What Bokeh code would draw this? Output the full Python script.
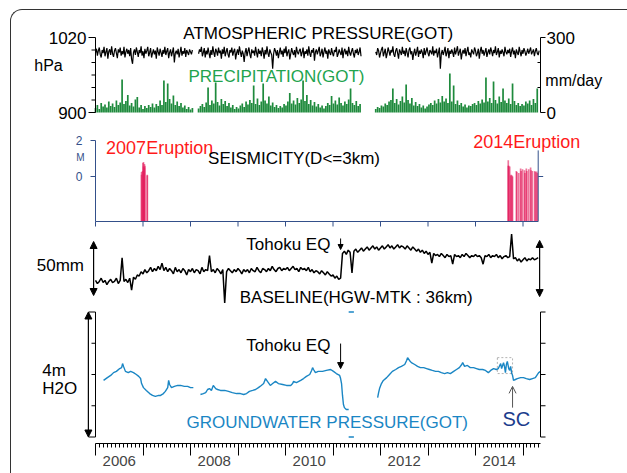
from bokeh.plotting import figure
from bokeh.models import (Range1d, LinearAxis, FixedTicker, Label, Arrow,
                          NormalHead, OpenHead, BoxAnnotation)
from bokeh.layouts import column
from bokeh.embed import file_html
from bokeh.resources import INLINE

# ---------------------------------------------------------------- data
STEP = 0.04        # sampling interval (years) of digitised precipitation / baseline
PRES_STEP = 0.02   # sampling interval (years) of digitised pressure

years = list(range(2006, 2016))
year_labels = ["2006", "2008", "2010", "2012", "2014"]

# atmospheric pressure (hPa) and precipitation (mm/day), three recorded segments
seg_start = [2006.00, 2008.17, 2011.90]
pres_a = [996, 1002, 991, 999, 1004, 993, 988, 1000, 995, 1005, 990, 997, 1003, 986, 998, 1001, 992, 1006, 994, 989,
          999, 1003, 995, 987, 1001, 996, 1004, 991, 998, 993, 1005, 988, 997, 1002, 994, 1000, 990, 1003, 985, 978,
          996, 1001, 992, 1004, 997, 989, 1000, 995, 1006, 991, 998, 987, 1002, 994, 999, 1005, 990, 996, 1003, 988,
          995, 1001, 993, 999, 986, 1004, 997, 991, 1002, 996, 989, 1000, 994, 1005, 992, 998, 1003, 987, 996, 1001,
          990, 997, 1004, 980, 995, 999, 993, 1002, 988, 996, 1005, 991, 998, 994, 1003, 989, 1000, 996, 992, 1001,
          997, 993, 1000]
pres_b = [994, 1001, 997, 1005, 990, 996, 1003, 988, 999, 993, 1004, 995, 987, 1000, 992, 1006, 996, 989, 1002, 998,
          991, 1004, 995, 999, 986, 1001, 994, 1005, 990, 997, 1003, 993, 988, 1000, 996, 1004, 991, 998, 1002, 985,
          995, 1001, 992, 1006, 997, 989, 999, 994, 981, 996, 1003, 990, 998, 1004, 993, 987, 1001, 995, 999, 991,
          1005, 996, 988, 1002, 994, 999, 990, 1004, 997, 986, 1000, 993, 1006, 995, 989, 1001, 996, 992, 970, 994,
          1003, 998, 991, 1000, 987, 996, 1004, 993, 999, 989, 1002, 995, 1006, 990, 997, 1001, 985, 994, 1003, 996,
          992, 1000, 988, 1005, 997, 993, 999, 1002, 990, 996, 1004, 987, 998, 994, 1001, 991, 1006, 995, 989, 1000,
          996, 1003, 983, 997, 1001, 993, 999, 1005, 990, 995, 1002, 988, 997, 1004, 994, 999, 986, 1001, 996, 992,
          1003, 995, 990, 1000, 997, 1005, 989, 994, 1001, 996, 992, 1004, 987, 998, 1002, 993, 999, 990, 1005, 996,
          991, 998, 1003, 994, 988, 1000, 995, 1002, 992, 997, 1004, 990]
pres_c = [997, 992, 1003, 999, 988, 995, 1001, 1005, 990, 996, 1002, 987, 994, 1004, 998, 991, 1000, 996, 1006, 993,
          989, 999, 1003, 995, 986, 1001, 997, 992, 1005, 994, 999, 990, 1003, 996, 988, 1000, 1004, 993, 998, 984,
          995, 1002, 991, 997, 1005, 989, 999, 994, 1001, 996, 987, 1003, 992, 998, 1004, 995, 990, 1000, 997, 993,
          1006, 991, 999, 995, 1002, 988, 996, 1004, 970, 994, 1000, 992, 998, 1005, 990, 996, 1003, 987, 999, 994,
          1001, 996, 989, 1004, 993, 999, 1006, 991, 997, 1002, 985, 995, 1000, 994, 1003, 990, 998, 1005, 992, 996,
          988, 1001, 997, 993, 1004, 999, 990, 995, 1002, 986, 998, 1005, 994, 1000, 991, 997, 1003, 989, 996, 1001,
          993, 1004, 998, 990, 1000, 995, 1006, 992, 997, 1003, 988, 999, 994, 1001, 996, 990, 1005, 997, 993, 1000,
          995, 1002, 989, 998, 1004, 993, 999, 987, 1001, 996, 992, 1005, 997, 990, 1000, 994, 1003, 998, 991, 996,
          1002, 994, 999, 1004, 993, 997, 1001, 990, 998, 1003, 995, 992, 999]
prcp_a = [18, 30, 14, 38, 24, 32, 20, 44, 26, 36,
          22, 48, 30, 40, 132, 34, 46, 70, 28, 38,
          24, 52, 62, 20, 30, 14, 26, 18, 30, 22,
          36, 20, 34, 26, 48, 30, 128, 42, 116, 54,
          36, 68, 30, 44, 26, 38, 20, 28, 14, 22,
          12, 18]
prcp_b = [16, 26, 34, 22, 40, 100, 30, 48, 36, 120,
          42, 28, 54, 34, 46, 26, 38, 20, 30, 14,
          22, 16, 28, 36, 22, 44, 32, 50, 38, 108,
          34, 56, 30, 44, 116, 48, 36, 64, 28, 40,
          22, 30, 18, 26, 20, 34, 28, 44, 78, 36,
          48, 32, 58, 38, 52, 128, 46, 70, 34, 50,
          28, 42, 24, 34, 20, 28, 16, 26, 38, 30,
          66, 36, 48, 32, 60, 38, 28, 44, 34, 52,
          96, 38, 30, 46, 26, 34]
prcp_c = [14, 22, 18, 28, 24, 36, 30, 44, 50, 96,
          38, 54, 32, 46, 64, 40, 112, 50, 36, 58,
          28, 42, 26, 34, 20, 28, 16, 24, 32, 38,
          30, 48, 36, 54, 40, 66, 44, 56, 38, 156,
          44, 108, 34, 48, 30, 38, 24, 32, 20, 28,
          26, 34, 38, 30, 46, 36, 52, 40, 140, 44,
          58, 38, 124, 50, 36, 64, 42, 96, 48, 38,
          56, 34, 116, 46, 30, 38, 26, 34, 28, 44,
          36, 48, 30, 54, 38, 96]

# seismicity (magnitude of events, D<=3km)
eq_t = [2006.97, 2006.97, 2006.99, 2007.00, 2007.01, 2007.01, 2007.03, 2007.03,
        2007.04, 2007.09, 2007.09,
        2014.69, 2014.69, 2014.70, 2014.72, 2014.74, 2014.75, 2014.77, 2014.78,
        2014.86, 2014.87, 2014.91, 2014.95, 2014.96, 2014.99, 2015.03, 2015.04,
        2015.07, 2015.08, 2015.12, 2015.16, 2015.17, 2015.20, 2015.25, 2015.26,
        2015.29, 2015.30]
eq_m = [0.25, 0.1, 0.3, 0.75, 0.8, 0.55, 0.7, 0.5,
        0.6, 0.1, 0.05,
        0.9, 0.6, 0.6, 0.55, 0.05, 0.1, 0.05, 0.0,
        0.3, 0.25, 0.2, 0.45, 0.3, 0.4, 0.35, 0.2,
        0.45, 0.3, 0.4, 0.5, 0.35, 0.3, 0.3, 0.25,
        0.28, 0.2]

# GNSS baseline HGW-MTK (mm, relative)
base_start = 2006.00
baseline = [-11, -14, -12, -9, -13, -11, -15, -12, -10, -13,
            -12, -9, -14, -11, 10, -12, -10, -13, -9, -20,
            -8, -10, -6, -7, -3, -5, -1, -4, -2, 1,
            -3, 0, -2, 2, -1, 5, -2, 1, -3, 0,
            -2, -5, 1, -3, -1, -4, 0, -2, -6, -1,
            -3, 0, -4, -1, -2, -5, 1, -3, -1, -2,
            12, -3, -1, -4, 0, -2, -5, -1, -32, -3,
            0, -2, -4, -1, -3, 0, -2, -5, -1, -3,
            -1, -4, 0, -2, -3, 1, -2, -4, 0, -1,
            -3, 0, -2, 2, -1, -3, 0, 1, -2, 0,
            -1, 1, -2, 0, 2, -1, 0, -3, 1, -1,
            0, -2, 1, -3, -1, -4, -2, -3, -5, -2,
            -4, -6, -3, -5, -7, -6, -9, -7, -10, -9,
            14, 16, 13, 17, 15, -4, 16, 18, 15, 17,
            19, 16, 18, 20, 17, 19, 21, 18, 20, 17,
            19, 21, 18, 20, 22, 19, 21, 18, 20, 22,
            19, 21, 20, 18, 21, 19, 17, 20, 18, 16,
            18, 15, 17, 14, 16, 13, 15, 5, 14, 12,
            13, 11, 14, 12, 10, 13, 11, 12, 4, 13,
            11, 12, 10, 13, 11, 14, 12, 10, 12, 11,
            13, 11, 12, 10, 4, 12, 11, 13, 10, 12,
            11, 13, 10, 12, 9, 11, 12, 10, 11, 32,
            9, 10, 7, 9, 6, 8, 10, 7, 9, 8,
            10, 8, 9, 10]

# groundwater pressure (m H2O, relative)
gw1_t = [2006.17, 2006.25, 2006.32, 2006.38, 2006.44, 2006.51, 2006.55, 2006.57, 2006.59, 2006.63,
         2006.69, 2006.74, 2006.80, 2006.86, 2006.91, 2006.95, 2006.97, 2007.01, 2007.07, 2007.14,
         2007.20, 2007.26, 2007.33, 2007.37, 2007.43, 2007.47, 2007.52, 2007.54, 2007.56, 2007.60,
         2007.66, 2007.73, 2007.79, 2007.87, 2007.94, 2008.00, 2008.06]
gw1_v = [-0.19, -0.10, -0.03, 0.06, 0.10, 0.19, 0.22, 0.35, 0.26, 0.10,
         0.06, 0.10, 0.06, 0.00, -0.06, -0.13, -0.29, -0.42, -0.51, -0.61,
         -0.67, -0.70, -0.67, -0.67, -0.61, -0.54, -0.42, -0.19, -0.32, -0.42,
         -0.38, -0.35, -0.35, -0.38, -0.38, -0.42, -0.42]
gw2_t = [2008.21, 2008.27, 2008.32, 2008.36, 2008.40, 2008.44, 2008.48, 2008.53, 2008.57, 2008.63,
         2008.72, 2008.80, 2008.88, 2008.97, 2009.05, 2009.12, 2009.18, 2009.24, 2009.31, 2009.37,
         2009.43, 2009.49, 2009.54, 2009.58, 2009.62, 2009.68, 2009.73, 2009.79, 2009.85, 2009.94,
         2010.02, 2010.11, 2010.15, 2010.17, 2010.23, 2010.32, 2010.38, 2010.44, 2010.51, 2010.55,
         2010.57, 2010.59, 2010.63, 2010.69, 2010.78, 2010.86, 2010.95, 2011.01, 2011.07, 2011.14,
         2011.16, 2011.18, 2011.20, 2011.22, 2011.24, 2011.28, 2011.33]
gw2_v = [-0.64, -0.61, -0.58, -0.48, -0.45, -0.51, -0.35, -0.45, -0.48, -0.51,
         -0.51, -0.54, -0.58, -0.61, -0.61, -0.64, -0.61, -0.54, -0.51, -0.48,
         -0.42, -0.35, -0.29, -0.13, -0.22, -0.35, -0.29, -0.22, -0.29, -0.32,
         -0.35, -0.35, -0.29, -0.22, -0.26, -0.19, -0.13, -0.06, 0.00, 0.13,
         0.22, 0.16, 0.06, 0.10, 0.10, 0.13, 0.16, 0.10, 0.03, -0.03,
         -0.13, -0.29, -0.67, -0.96, -1.06, -1.12, -1.12]
gw3_t = [2011.94, 2011.96, 2011.98, 2012.02, 2012.06, 2012.13, 2012.19, 2012.25, 2012.32, 2012.38,
         2012.44, 2012.51, 2012.55, 2012.57, 2012.61, 2012.65, 2012.72, 2012.78, 2012.84, 2012.91,
         2012.97, 2013.03, 2013.09, 2013.16, 2013.22, 2013.28, 2013.35, 2013.41, 2013.47, 2013.54,
         2013.60, 2013.66, 2013.71, 2013.73, 2013.77, 2013.83, 2013.89, 2013.96, 2014.02, 2014.08,
         2014.15, 2014.21, 2014.27, 2014.32, 2014.38, 2014.44, 2014.48, 2014.53, 2014.55, 2014.59,
         2014.61, 2014.63, 2014.65, 2014.67, 2014.70, 2014.72, 2014.74, 2014.76, 2014.78, 2014.80,
         2014.84, 2014.88, 2014.95, 2015.01, 2015.07, 2015.14, 2015.20, 2015.26, 2015.33, 2015.37]
gw3_v = [-0.74, -0.58, -0.45, -0.29, -0.19, -0.10, 0.00, 0.10, 0.16, 0.22,
         0.26, 0.32, 0.45, 0.54, 0.45, 0.38, 0.32, 0.26, 0.22, 0.22,
         0.19, 0.16, 0.13, 0.10, 0.10, 0.06, 0.03, 0.06, 0.03, 0.10,
         0.16, 0.22, 0.32, 0.38, 0.26, 0.29, 0.22, 0.22, 0.19, 0.16,
         0.16, 0.13, 0.06, 0.13, 0.19, 0.16, 0.19, 0.35, 0.19, 0.38,
         0.26, 0.06, 0.32, 0.42, 0.19, 0.13, 0.26, 0.06, -0.03, -0.19,
         -0.16, -0.13, -0.10, -0.10, -0.13, -0.16, -0.13, -0.10, 0.06, 0.10]
gw_off_t = [2011.33, 2011.44]      # off-scale readings just after the Tohoku EQ
gw_off_hi = [2.0, 2.0]
gw_off_lo = [-2.0, -2.0]

# axis tick values of the panels
pres_ticks, pres_minor = [900, 1020], [920, 940, 960, 980, 1000]
prcp_ticks, prcp_minor = [0, 300], [100, 200]
seis_ticks = [0, 2]
gw_ticks, gw_minor = [-2, 2], [-1, 0, 1]

# ---------------------------------------------------------------- style / layout
FONT = "Liberation Sans"
GREEN_BAR = "#1e8a3c"
GREEN_TXT = "#22a34e"
CRIMSON = "#e3195a"
SEIS_BLUE = "#34508a"
GW_BLUE = "#1a86c4"
SC_NAVY = "#1b3c8c"
RED = "#ff1a1a"

CANVAS_W, CANVAS_H = 616, 463
BOTTOM = 30                       # room for the time axis under the frame
FRAME_H = CANVAS_H - BOTTOM
PX_PER_YEAR = 47.5
X2006_PX = 84                     # where 1 Jan 2006 sits in the canvas
X_START = 2006 - X2006_PX / PX_PER_YEAR
X_END = X_START + CANVAS_W / PX_PER_YEAR
X_LEFT = 2006.0                   # panel left edge
X_RIGHT = 2006.0 + 445 / PX_PER_YEAR   # panel right edge


def dx(px):
    return px / PX_PER_YEAR


def panel_range(value, y_px, px_per_unit):
    lo = value - (FRAME_H - y_px) / px_per_unit
    return Range1d(lo, lo + FRAME_H / px_per_unit)


p = figure(width=CANVAS_W, height=CANVAS_H, title=None,
           x_range=Range1d(X_START, X_END), y_range=panel_range(0, 364, 31.25),
           x_axis_type=None, y_axis_type=None, output_backend="svg",
           toolbar_location=None, min_border_left=0, min_border_right=0,
           min_border_top=0, min_border_bottom=BOTTOM)
p.extra_y_ranges = {"pres": panel_range(1020, 27, 0.625),
                    "prcp": panel_range(300, 27, 0.25),
                    "seis": panel_range(0, 166, 18),
                    "base": panel_range(0, 258, 1.08)}
p.outline_line_color = None
p.border_fill_color = None
p.background_fill_color = None


def times(start, vals, step=STEP):
    return [start + i * step for i in range(len(vals))]


def label(x, y, text, size="17px", color="black", align="center", rng="default"):
    p.add_layout(Label(x=x, y=y, text=text, text_font=FONT, text_font_size=size,
                       text_color=color, text_align=align, text_baseline="middle",
                       y_range_name=rng))


def vline(x, y0, y1, rng="default", color="black"):
    p.segment(x0=[x], y0=[y0], x1=[x], y1=[y1], y_range_name=rng,
              line_color=color, line_width=1)


def ticks(vals, x, length_px, rng="default", color="black"):
    n = len(vals)
    p.segment(x0=[x] * n, y0=vals, x1=[x + dx(length_px)] * n, y1=vals,
              y_range_name=rng, line_color=color, line_width=1)


def arrow(x, y0, y1, both=False, color="black", size=7, width=1.2, open_head=False, rng="default"):
    head = OpenHead if open_head else NormalHead
    kw = dict(line_color=color, size=size)
    if not open_head:
        kw.update(fill_color=color)
    p.add_layout(Arrow(x_start=x, y_start=y0, x_end=x, y_end=y1,
                       start=head(**kw) if both else None, end=head(**kw),
                       line_color=color, line_width=width, y_range_name=rng))


# ---------------------------------------------------------------- panel 1: pressure / precipitation
for s, v in zip(seg_start, [prcp_a, prcp_b, prcp_c]):
    p.vbar(x=times(s, v), top=v, bottom=0, width=0.036, y_range_name="prcp",
           fill_color=GREEN_BAR, line_color=None)
for s, v in zip(seg_start, [pres_a, pres_b, pres_c]):
    p.line(times(s, v, PRES_STEP), v, line_color="black", line_width=1.2, y_range_name="pres")

vline(X_LEFT, 900, 1020, "pres")
ticks(pres_ticks, X_LEFT, -7, "pres")
ticks(pres_minor, X_LEFT, -4, "pres")
for v in pres_ticks:
    label(X_LEFT - dx(9), v, str(v), align="right", rng="pres")
vline(X_RIGHT, 0, 300, "prcp")
ticks(prcp_ticks, X_RIGHT, 5, "prcp")
ticks(prcp_minor, X_RIGHT, -3, "prcp")
for v in prcp_ticks:
    label(X_RIGHT + dx(6), v, str(v), align="left", rng="prcp")
label(2010.69, 1026.4, "ATMOSPHERIC PRESSURE(GOT)", rng="pres")
label(2009.81, 957.6, "PRECIPITATION(GOT)", color=GREEN_TXT, rng="pres")
label(2005.01, 975.2, "hPa", size="16px", rng="pres")
label(2015.47, 128, "mm/day", size="16px", align="left", rng="prcp")

# ---------------------------------------------------------------- panel 2: seismicity
p.vbar(x=eq_t, top=eq_m, bottom=-2.5, width=0.035, fill_color=CRIMSON,
       fill_alpha=0.6, line_color=None, y_range_name="seis")
SEIS_RIGHT = 2006.0 + 442.7 / PX_PER_YEAR
vline(X_LEFT, -2.5, 2.0, "seis", SEIS_BLUE)
ticks(seis_ticks, X_LEFT, -5, "seis", SEIS_BLUE)
for v in seis_ticks:
    label(X_LEFT - dx(13), v, str(v), size="12px", align="right", color=SEIS_BLUE, rng="seis")
vline(SEIS_RIGHT, -2.5, 1.45, "seis", SEIS_BLUE)
ticks([0], SEIS_RIGHT, 5, "seis", SEIS_BLUE)
yr_in = [y for y in years if y <= SEIS_RIGHT]
p.segment(x0=[X_LEFT], y0=[-2.5], x1=[SEIS_RIGHT], y1=[-2.5], y_range_name="seis",
          line_color=SEIS_BLUE)
p.segment(x0=yr_in, y0=[-2.5] * len(yr_in), x1=yr_in, y1=[-2.5 - 5 / 18] * len(yr_in),
          y_range_name="seis", line_color=SEIS_BLUE)
label(2007.35, 1.61, "2007Eruption", size="18px", color=RED, rng="seis")
label(2015.08, 1.89, "2014Eruption", size="18px", color=RED, rng="seis")
label(2010.18, 1.0, "SEISMICITY(D<=3km)", rng="seis")
label(2005.68, 1.06, "M", size="10px", color=SEIS_BLUE, rng="seis")

# ---------------------------------------------------------------- panel 3: baseline
p.line(times(base_start, baseline), baseline, line_color="black", line_width=1.5,
       y_range_name="base")
arrow(2005.96, -25, 25, both=True, rng="base")
arrow(2015.35, -26, 26, both=True, rng="base")
arrow(2011.16, 27.8, 17.6, size=5, width=1, rng="base")
label(2005.26, 2.8, "50mm", rng="base")
label(2010.06, 22.2, "Tohoku EQ", rng="base")
label(2011.49, -26.9, "BASELINE(HGW-MTK : 36km)", rng="base")

# ---------------------------------------------------------------- panel 4: groundwater
for t, v in [(gw1_t, gw1_v), (gw2_t, gw2_v), (gw3_t, gw3_v),
             (gw_off_t, gw_off_hi), (gw_off_t, gw_off_lo)]:
    p.line(t, v, line_color=GW_BLUE, line_width=1.4)
vline(X_LEFT, -2, 2)
ticks(gw_ticks, X_LEFT, -7)
ticks(gw_minor, X_LEFT, -4)
vline(X_RIGHT, -2, 2)
ticks(gw_ticks + gw_minor, X_RIGHT, 5)
arrow(2005.85, -2, 2, both=True)
arrow(2011.16, 0.99, 0.19, size=6, width=1)
arrow(2014.78, -1.06, -0.38, size=7, width=1, color="#555555", open_head=True)
p.add_layout(BoxAnnotation(left=2014.46, right=2014.78, bottom=0.03, top=0.54,
                           fill_alpha=0, line_color="black", line_dash="2 2", line_width=1))
label(2004.88, 0.128, "4m", align="left")
label(2004.88, -0.448, "H2O", align="left")
label(2010.06, 0.93, "Tohoku EQ")
label(2010.88, -1.54, "GROUNDWATER PRESSURE(GOT)", color=GW_BLUE)
label(2014.86, -1.41, "SC", size="20px", color=SC_NAVY)

# ---------------------------------------------------------------- time axis
months = [y + m / 12 for y in years for m in range(1, 12) if y + m / 12 <= X_RIGHT]
xa = LinearAxis(bounds=(X_LEFT, X_RIGHT), ticker=FixedTicker(ticks=years, minor_ticks=months))
xa.major_tick_out = 12
xa.minor_tick_out = 4
xa.major_tick_in = 0
xa.minor_tick_in = 0
xa.major_label_text_color = None
xa.major_label_text_font_size = "1px"
xa.major_label_standoff = 0
p.add_layout(xa, "below")

mid = [int(s) + 0.5 for s in year_labels]
xl = LinearAxis(ticker=FixedTicker(ticks=mid))
xl.major_label_overrides = {m: s for m, s in zip(mid, year_labels)}
xl.axis_line_color = None
xl.major_tick_line_color = None
xl.minor_tick_line_color = None
xl.major_tick_out = 0
xl.major_tick_in = 0
xl.major_label_standoff = 0
xl.major_label_text_font = FONT
xl.major_label_text_font_size = "15px"
p.add_layout(xl, "below")

layout = column(p, margin=(9, 0, 0, 10),
                styles={"border-left": "1px solid #333", "border-top": "1px solid #333",
                        "border-top-left-radius": "12px"})

open("out.html", "w").write(file_html(layout, INLINE))
